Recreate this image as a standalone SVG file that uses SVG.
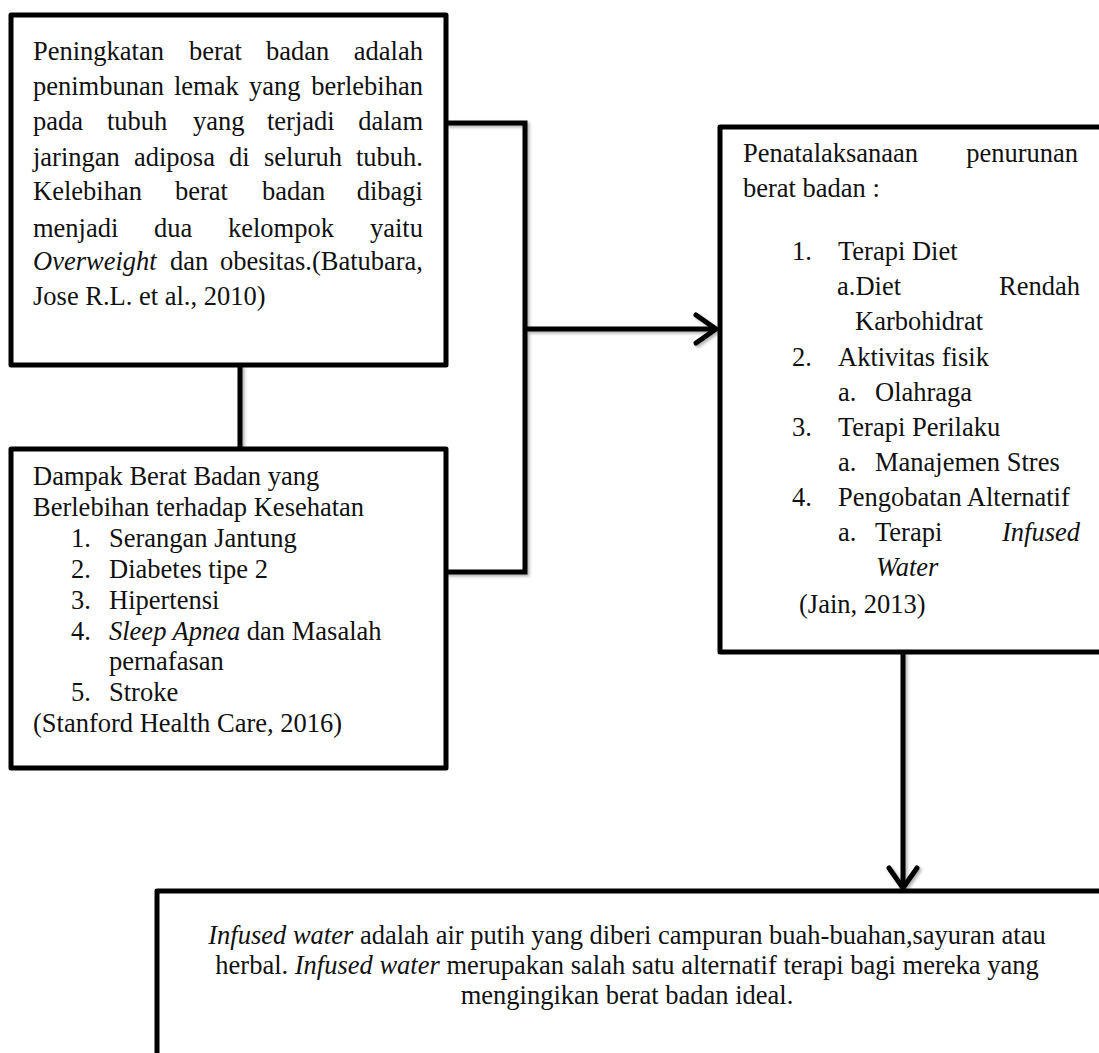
<svg xmlns="http://www.w3.org/2000/svg" width="1099" height="1053" viewBox="0 0 1099 1053">
<defs>
<style>
.box{fill:#fff;stroke:#000;stroke-width:5;stroke-linejoin:round}
.t{font-family:"Liberation Serif","Times New Roman",serif;font-size:26.5px;fill:#111}
.i{font-style:italic}
.e{text-anchor:end}
.c{fill:none;stroke:#000;stroke-width:5;stroke-linejoin:miter}
</style>
<filter id="sh" x="-10%" y="-10%" width="130%" height="130%">
<feDropShadow dx="2" dy="2" stdDeviation="1.5" flood-color="#000" flood-opacity="0.3"/>
</filter>
<marker id="ah" markerUnits="userSpaceOnUse" markerWidth="30" markerHeight="34" viewBox="-24 -17 30 34" refX="0" refY="0" orient="auto">
<path d="M-20,-14 L0,0 L-20,14" fill="none" stroke="#000" stroke-width="5" stroke-linejoin="round" stroke-linecap="round"/>
</marker>
</defs>

<g id="connectors" filter="url(#sh)">
<polyline class="c" points="446,123 525,123 525,572 446,572"/>
<line class="c" x1="525" y1="329" x2="716" y2="329" marker-end="url(#ah)"/>
<line class="c" x1="240" y1="365" x2="240" y2="449"/>
<line class="c" x1="903" y1="652" x2="903" y2="888" marker-end="url(#ah)"/>
</g>

<g id="node-definisi">
<rect class="box" x="11" y="15" width="435" height="350"/>
<text class="t" y="60"><tspan x="33">Peningkatan</tspan><tspan x="189">berat</tspan><tspan x="266">badan</tspan></text>
<text class="t e" x="423" y="60">adalah</text>
<text class="t" y="95"><tspan x="33">penimbunan</tspan><tspan x="174">lemak</tspan><tspan x="249">yang</tspan></text>
<text class="t e" x="423" y="95">berlebihan</text>
<text class="t" y="130"><tspan x="33">pada</tspan><tspan x="107">tubuh</tspan><tspan x="193">yang</tspan><tspan x="267">terjadi</tspan></text>
<text class="t e" x="423" y="130">dalam</text>
<text class="t" y="166"><tspan x="33">jaringan</tspan><tspan x="134">adiposa</tspan><tspan x="229">di</tspan><tspan x="264">seluruh</tspan></text>
<text class="t e" x="423" y="166">tubuh.</text>
<text class="t" y="200"><tspan x="33">Kelebihan</tspan><tspan x="175">berat</tspan><tspan x="262">badan</tspan></text>
<text class="t e" x="423" y="200">dibagi</text>
<text class="t" y="237"><tspan x="33">menjadi</tspan><tspan x="154">dua</tspan><tspan x="228">kelompok</tspan></text>
<text class="t e" x="423" y="237">yaitu</text>
<text class="t" y="270"><tspan x="33" class="i">Overweight</tspan><tspan x="170">dan</tspan></text>
<text class="t e" x="423" y="270">obesitas.(Batubara,</text>
<text class="t" x="33" y="305">Jose R.L. et al., 2010)</text>
</g>

<g id="node-dampak">
<rect class="box" x="11" y="449" width="435" height="319"/>
<text class="t" x="33" y="485">Dampak Berat Badan yang</text>
<text class="t" x="33" y="516">Berlebihan terhadap Kesehatan</text>
<text class="t" y="547"><tspan x="71">1.</tspan><tspan x="109">Serangan Jantung</tspan></text>
<text class="t" y="578"><tspan x="71">2.</tspan><tspan x="109">Diabetes tipe 2</tspan></text>
<text class="t" y="609"><tspan x="71">3.</tspan><tspan x="109">Hipertensi</tspan></text>
<text class="t" y="640"><tspan x="71">4.</tspan><tspan x="109" class="i">Sleep Apnea</tspan><tspan> dan Masalah</tspan></text>
<text class="t" x="109" y="670">pernafasan</text>
<text class="t" y="701"><tspan x="71">5.</tspan><tspan x="109">Stroke</tspan></text>
<text class="t" x="33" y="732">(Stanford Health Care, 2016)</text>
</g>

<g id="node-penatalaksanaan">
<rect class="box" x="720" y="127" width="382" height="525"/>
<text class="t" x="743" y="162">Penatalaksanaan</text>
<text class="t e" x="1078" y="162">penurunan</text>
<text class="t" x="743" y="197">berat badan :</text>
<text class="t" y="260"><tspan x="792">1.</tspan><tspan x="838">Terapi Diet</tspan></text>
<text class="t" x="837" y="295">a.Diet</text>
<text class="t e" x="1080" y="295">Rendah</text>
<text class="t" x="855" y="330">Karbohidrat</text>
<text class="t" y="366"><tspan x="792">2.</tspan><tspan x="838">Aktivitas fisik</tspan></text>
<text class="t" y="401"><tspan x="838">a.</tspan><tspan x="875">Olahraga</tspan></text>
<text class="t" y="436"><tspan x="792">3.</tspan><tspan x="838">Terapi Perilaku</tspan></text>
<text class="t" y="471"><tspan x="838">a.</tspan><tspan x="875">Manajemen Stres</tspan></text>
<text class="t" y="506"><tspan x="792">4.</tspan><tspan x="838">Pengobatan Alternatif</tspan></text>
<text class="t" y="541"><tspan x="838">a.</tspan><tspan x="875">Terapi</tspan></text>
<text class="t i e" x="1080" y="541">Infused</text>
<text class="t i" x="876" y="576">Water</text>
<text class="t" x="799" y="613">(Jain, 2013)</text>
</g>

<g id="node-infused-water">
<rect class="box" x="157" y="891" width="945" height="200"/>
<text class="t" x="627" y="944" text-anchor="middle"><tspan class="i">Infused water</tspan> adalah air putih yang diberi campuran buah-buahan,sayuran atau</text>
<text class="t" x="627" y="974" text-anchor="middle">herbal. <tspan class="i">Infused water</tspan> merupakan salah satu alternatif terapi bagi mereka yang</text>
<text class="t" x="627" y="1004" text-anchor="middle">mengingikan berat badan ideal.</text>
</g>
</svg>
